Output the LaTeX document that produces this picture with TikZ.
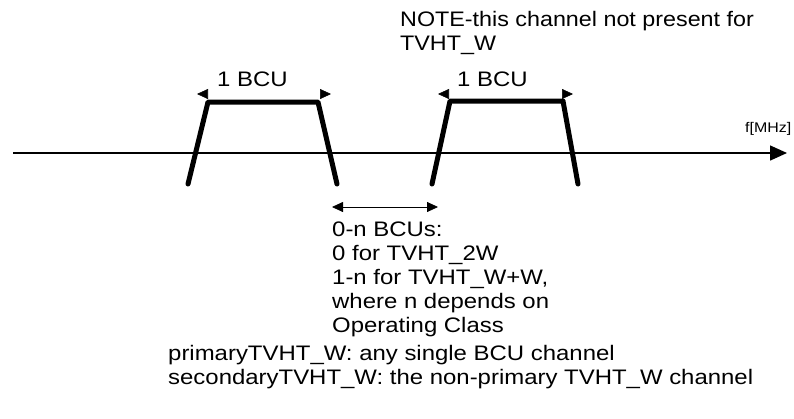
\documentclass[tikz,border=0pt]{standalone}
\usepackage{fontspec}
\usepackage{graphicx}
\setmainfont{Liberation Sans}
\usetikzlibrary{arrows.meta}
\newcommand{\wx}[1]{\scalebox{1.14}[1]{#1}}
\newcommand{\wn}[1]{\scalebox{1.11}[1]{#1}}
\begin{document}
\begin{tikzpicture}[x=1pt,y=-1pt,
  lbl/.style={inner sep=0pt,anchor=base west,font=\fontsize{21}{24}\selectfont},
  small/.style={inner sep=0pt,anchor=base west,font=\fontsize{14}{16}\selectfont},
  trap/.style={line width=5pt,line cap=round,line join=round},
  bcu/.style={double=white,double distance=1.2pt,line width=0.6pt,{Triangle[length=11pt,width=10pt]}-{Triangle[length=11pt,width=10pt]}},
  gap/.style={line width=0.8pt,{Triangle[length=11pt,width=10pt]}-{Triangle[length=11pt,width=10pt]}},
  axis/.style={line width=1.5pt,-{Triangle[length=17pt,width=15pt]}}]
\useasboundingbox (0,0) rectangle (794,418);
% axis
\coordinate (ax0) at (13,153);
\coordinate (ax1) at (787,153);
\draw[axis] (ax0) -- (ax1);
\node[small] (fmhz) at (745,132) {\wx{f[MHz]}};
% left channel
\coordinate (l1) at (188,184);
\coordinate (l2) at (208,102);
\coordinate (l3) at (318,102);
\coordinate (l4) at (337,184);
\draw[trap] (l1) -- (l2) -- (l3) -- (l4);
\coordinate (la) at (197,94);
\coordinate (lb) at (331,94);
\draw[bcu] (la) -- (lb);
\node[lbl] (lt) at (217,86) {\wx{1 BCU}};
% right channel
\coordinate (r1) at (432,184);
\coordinate (r2) at (450,101);
\coordinate (r3) at (563,101);
\coordinate (r4) at (578,184);
\draw[trap] (r1) -- (r2) -- (r3) -- (r4);
\coordinate (ra) at (438,94);
\coordinate (rb) at (573,94);
\draw[bcu] (ra) -- (rb);
\node[lbl] (rt) at (457,86) {\wx{1 BCU}};
% gap arrow
\coordinate (ga) at (332,207);
\coordinate (gb) at (438,207);
\draw[gap] (ga) -- (gb);
% texts
\node[lbl] (n1) at (400,26) {\wn{NOTE-this channel not present for}};
\node[lbl] (n2) at (400,50) {\wn{TVHT\_W}};
\node[lbl] (g1) at (332,236) {\wx{0-n BCUs:}};
\node[lbl] (g2) at (332,260) {\wx{0 for TVHT\_2W}};
\node[lbl] (g3) at (332,284) {\wx{1-n for TVHT\_W+W,}};
\node[lbl] (g4) at (332,308) {\wx{where n depends on}};
\node[lbl] (g5) at (332,332) {\wx{Operating Class}};
\node[lbl] (p1) at (168,360) {\wx{primaryTVHT\_W: any single BCU channel}};
\node[lbl] (p2) at (168,384) {\wx{secondaryTVHT\_W: the non-primary TVHT\_W channel}};
\end{tikzpicture}
\end{document}
